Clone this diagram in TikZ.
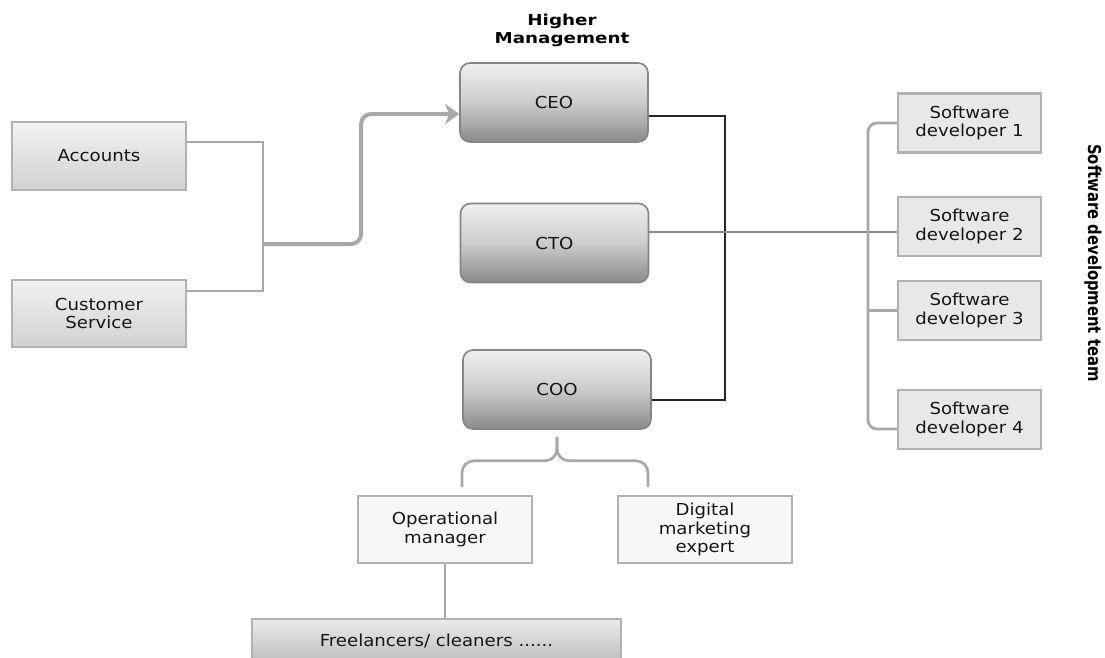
\documentclass[tikz,border=0pt]{standalone}
\usepackage{fontspec}
\setmainfont[FakeStretch=1.1]{DejaVu Sans}
\newfontfamily\uprightlabel{DejaVu Sans}
\newfontfamily\titlefont[FakeStretch=1.22]{DejaVu Sans}
\usetikzlibrary{calc,arrows.meta}

\definecolor{boxline}{HTML}{B2B2B2}
\definecolor{execline}{HTML}{858585}
\definecolor{wire}{HTML}{A8A8A8}
\definecolor{darkwire}{HTML}{262626}
\definecolor{txt}{HTML}{161616}

\tikzset{
  lbl/.style={font=\fontsize{16.5}{18.5}\selectfont, text=txt, align=center},
  flatbox/.style={lbl, draw=boxline, line width=2.5pt, top color=black!5,
    bottom color=black!18, inner sep=0pt},
  devbox/.style={lbl, draw=boxline, line width=2.5pt, fill=black!9,
    minimum width=143pt, minimum height=59pt, inner sep=0pt},
  plainbox/.style={lbl, draw=boxline, line width=2.5pt, fill=black!3,
    minimum width=174pt, minimum height=67pt, inner sep=0pt},
  execbox/.style={lbl, draw=execline, line width=1.6pt, rounded corners=10pt,
    top color=black!6, bottom color=black!46, middle color=black!20,
    minimum width=188pt, minimum height=79pt, inner sep=0pt},
  wireline/.style={draw=wire, line width=2.7pt},
  arrowline/.style={draw=wire, line width=4pt, rounded corners=10pt,
    -{Stealth[length=14pt,width=20pt,inset=4pt]}},
  bossline/.style={draw=darkwire, line width=2pt},
  ctoline/.style={draw=black!45, line width=2pt},
  title/.style={font=\titlefont\bfseries\fontsize{15}{18}\selectfont, text=black, align=center}
}

\begin{document}
\begin{tikzpicture}[x=1pt,y=-1pt]
  \clip (0,0) rectangle (1105,657);
  \fill[white] (0,0) rectangle (1105,657);

  % support departments
  \node[flatbox, minimum width=174pt, minimum height=68pt] (acc) at (99,156) {Accounts};
  \node[flatbox, minimum width=174pt, minimum height=67pt] (cs) at (99,313.5) {Customer\\Service};

  % executives
  \node[title] (hm) at (562,30) {Higher\\Management};
  \node[execbox] (ceo) at (554,102.5) {CEO};
  \node[execbox] (cto) at (554.5,243) {CTO};
  \node[execbox] (coo) at (557,389.5) {COO};

  % development team
  \node[devbox] (dev1) at (969.5,123) {Software\\developer 1};
  \node[devbox] (dev2) at (969.5,226.5) {Software\\developer 2};
  \node[devbox] (dev3) at (969.5,310.5) {Software\\developer 3};
  \node[devbox] (dev4) at (969.5,419.5) {Software\\developer 4};
  \node[font=\uprightlabel\bfseries\fontsize{14.8}{18}\selectfont, rotate=-90, yscale=1.2]
    (team) at (1093,263) {Software development team};

  % staff under the COO
  \node[plainbox] (opm) at (445,529.5) {Operational\\manager};
  \node[plainbox] (dme) at (705,529.5) {Digital\\marketing\\expert};
  \node[flatbox, minimum width=369pt, minimum height=44pt, top color=black!8,
    bottom color=black!26] (free) at (436.5,641) {Freelancers/ cleaners ......};

  % support departments feed into the CEO
  \coordinate (j1) at (263,244);
  \draw[wireline] ([yshift=14pt]acc.east) -| (j1) |- ([yshift=22.5pt]cs.east);
  \coordinate (ceoin) at ([yshift=-11.5pt]ceo.west);
  \draw[arrowline] (j1) -| ($(j1)!.5!(ceoin)$) |- (ceoin);

  % CEO -- COO link
  \coordinate (blk) at (725,250);
  \draw[bossline] ([yshift=-13.5pt]ceo.east) -| (blk) |- ([yshift=-10.5pt]coo.east);

  % CTO to the development team
  \coordinate (ctoout) at ([yshift=11pt]cto.east);
  \draw[ctoline] (ctoout) -- (ctoout -| dev2.west);
  \coordinate (devbus) at (868,300);
  \draw[wireline, rounded corners=9pt] (dev1.west) -| (devbus) |- ([yshift=-9.5pt]dev4.west);
  \draw[wireline] (dev3.west) -- (dev3.west -| devbus);

  % brace under the COO
  \coordinate (btip) at ([yshift=-7pt]coo.south);
  \coordinate (bl) at (462,487);
  \coordinate (br) at (648,487);
  \draw[wireline, rounded corners=12pt] (bl) |- ($(btip)+(0,24)$) -- (btip);
  \draw[wireline, rounded corners=12pt] (br) |- ($(btip)+(0,24)$) -- (btip);

  % operational manager to freelancers
  \draw[wireline] (opm.south) -- (opm.south |- free.north);
\end{tikzpicture}
\end{document}
